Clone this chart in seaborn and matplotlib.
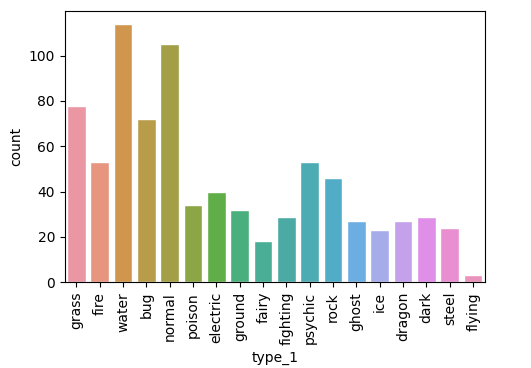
import pandas as pd
import matplotlib
matplotlib.use("Agg")
import matplotlib.pyplot as plt
import seaborn as sns

# counts of pokemon per primary type
types = ["grass", "fire", "water", "bug", "normal", "poison", "electric", "ground",
         "fairy", "fighting", "psychic", "rock", "ghost", "ice", "dragon", "dark",
         "steel", "flying"]
counts = [78, 53, 114, 72, 105, 34, 40, 32, 18, 29, 53, 46, 27, 23, 27, 29, 24, 3]

df = pd.DataFrame({"type_1": types, "count": counts})

plt.rcParams["font.size"] = 10
fig = plt.figure(figsize=(5.31, 3.68), dpi=100)
ax = fig.add_axes([0.122, 0.233, 0.791, 0.737])

colors = sns.husl_palette(len(types), l=.7)
sns.barplot(data=df, x="type_1", y="count", hue="type_1", palette=colors,
            legend=False, saturation=.75, edgecolor="white", linewidth=1, ax=ax)
plt.xticks(rotation=90)
ax.set_xlabel("type_1")
ax.set_ylabel("count")

fig.savefig("out.png", dpi=100)
